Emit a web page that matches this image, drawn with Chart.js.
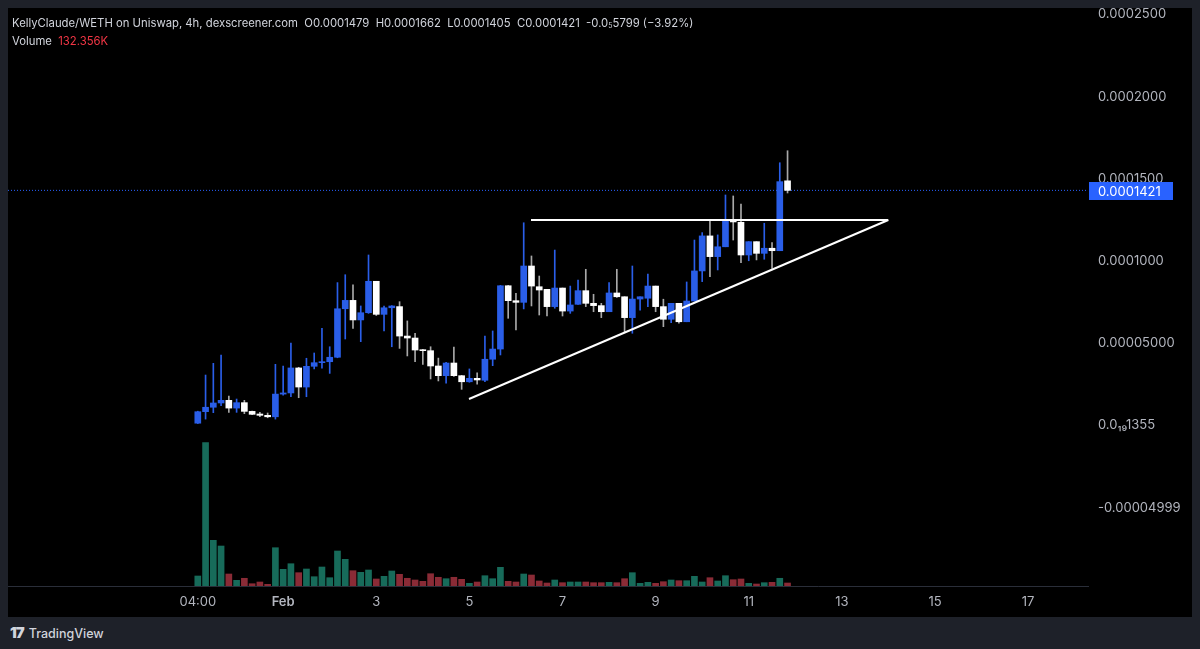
<!DOCTYPE html>
<html lang="en">
<head>
  <meta charset="UTF-8">
  <title>KellyClaude/WETH 4h</title>
  <script src="https://cdn.jsdelivr.net/npm/chart.js"></script>
  <style>
    html, body { margin: 0; padding: 0; }
    body {
      width: 1200px; height: 649px; overflow: hidden;
      background: #1e2129;
      font-family: Inter, "Noto Sans", sans-serif;
      position: relative;
    }
    #panel {
      position: absolute; left: 8px; top: 8px;
      width: 1184px; height: 609px; background: #000;
    }
    #legend {
      position: absolute; left: 12px; top: 14px;
      color: #d1d4dc; font-size: 11.3px; line-height: 18px;
      white-space: pre;
    }
    #legend sub { font-size: 7px; vertical-align: -1px; line-height: 0; }
    #legend .red { color: #f23645; }
    #brand {
      position: absolute; left: 10px; top: 623px;
      color: #d1d4dc; font-size: 12.5px; font-weight: 500;
    }
    #brand b { font-weight: 900; font-size: 15px; letter-spacing: -1px; margin-right: 5px; }
  </style>
</head>
<body>
  <div id="panel"><canvas id="chart" width="1184" height="609"></canvas></div>
  <div id="legend"></div>
  <div id="brand"><b>17</b>TradingView</div>

  <script>
    // 4h candles, first one Jan 30 04:00 (price in WETH)
    const open = [0.0000005, 0.0000075, 0.0000102, 0.0000128, 0.0000144, 0.0000097, 0.0000130, 0.0000077, 0.0000061, 0.0000053,
      0.0000044, 0.0000182, 0.0000189, 0.0000341, 0.0000225, 0.0000351, 0.0000373, 0.0000379, 0.0000406, 0.0000701,
      0.0000752, 0.0000633, 0.0000677, 0.0000868, 0.0000667, 0.0000707, 0.0000714, 0.0000535, 0.0000523, 0.0000452,
      0.0000446, 0.0000353, 0.0000294, 0.0000371, 0.0000294, 0.0000257, 0.0000278, 0.0000266, 0.0000394, 0.0000456,
      0.0000841, 0.0000750, 0.0000740, 0.0000961, 0.0000835, 0.0000819, 0.0000714, 0.0000827, 0.0000687, 0.0000728,
      0.0000811, 0.0000734, 0.0000720, 0.0000683, 0.0000797, 0.0000774, 0.0000647, 0.0000760, 0.0000765, 0.0000839,
      0.0000714, 0.0000637, 0.0000734, 0.0000622, 0.0000748, 0.0000931, 0.0001144, 0.0001018, 0.0001078, 0.0001241,
      0.0001227, 0.0001028, 0.0001109, 0.0001038, 0.0001069, 0.0001054, 0.0001479];
    const high = [0.0000078, 0.0000298, 0.0000369, 0.0000420, 0.0000170, 0.0000152, 0.0000144, 0.0000079, 0.0000071, 0.0000067,
      0.0000363, 0.0000353, 0.0000493, 0.0000345, 0.0000400, 0.0000432, 0.0000582, 0.0000470, 0.0000860, 0.0000908,
      0.0000847, 0.0000718, 0.0001028, 0.0000868, 0.0000718, 0.0000720, 0.0000744, 0.0000627, 0.0000552, 0.0000455,
      0.0000470, 0.0000401, 0.0000375, 0.0000468, 0.0000296, 0.0000335, 0.0000312, 0.0000535, 0.0000566, 0.0000843,
      0.0000843, 0.0000795, 0.0001224, 0.0001022, 0.0000900, 0.0000819, 0.0001058, 0.0000827, 0.0000839, 0.0000876,
      0.0000941, 0.0000789, 0.0000734, 0.0000860, 0.0000941, 0.0000774, 0.0000961, 0.0000774, 0.0000912, 0.0000839,
      0.0000759, 0.0000734, 0.0000734, 0.0000864, 0.0001119, 0.0001164, 0.0001241, 0.0001150, 0.0001393, 0.0001387,
      0.0001338, 0.0001109, 0.0001109, 0.0001221, 0.0001103, 0.0001589, 0.0001662];
    const low = [0.0000003, 0.0000030, 0.0000069, 0.0000111, 0.0000071, 0.0000071, 0.0000063, 0.0000057, 0.0000044, 0.0000038,
      0.0000030, 0.0000175, 0.0000166, 0.0000160, 0.0000166, 0.0000335, 0.0000339, 0.0000308, 0.0000403, 0.0000517,
      0.0000582, 0.0000501, 0.0000673, 0.0000660, 0.0000566, 0.0000470, 0.0000460, 0.0000414, 0.0000379, 0.0000363,
      0.0000274, 0.0000262, 0.0000248, 0.0000290, 0.0000211, 0.0000254, 0.0000243, 0.0000257, 0.0000355, 0.0000420,
      0.0000643, 0.0000572, 0.0000700, 0.0000718, 0.0000663, 0.0000657, 0.0000704, 0.0000657, 0.0000673, 0.0000728,
      0.0000714, 0.0000683, 0.0000647, 0.0000683, 0.0000770, 0.0000561, 0.0000552, 0.0000693, 0.0000714, 0.0000683,
      0.0000592, 0.0000616, 0.0000613, 0.0000622, 0.0000748, 0.0000866, 0.0000896, 0.0000937, 0.0001078, 0.0001119,
      0.0000981, 0.0000993, 0.0000998, 0.0001002, 0.0000947, 0.0001054, 0.0001405];
    const close = [0.0000075, 0.0000102, 0.0000128, 0.0000144, 0.0000097, 0.0000130, 0.0000077, 0.0000059, 0.0000053, 0.0000044,
      0.0000182, 0.0000189, 0.0000341, 0.0000225, 0.0000351, 0.0000373, 0.0000379, 0.0000406, 0.0000701, 0.0000752,
      0.0000633, 0.0000677, 0.0000868, 0.0000667, 0.0000707, 0.0000718, 0.0000535, 0.0000523, 0.0000450, 0.0000446,
      0.0000353, 0.0000294, 0.0000371, 0.0000294, 0.0000257, 0.0000278, 0.0000268, 0.0000394, 0.0000456, 0.0000841,
      0.0000750, 0.0000740, 0.0000961, 0.0000839, 0.0000815, 0.0000714, 0.0000827, 0.0000687, 0.0000724, 0.0000811,
      0.0000734, 0.0000720, 0.0000683, 0.0000797, 0.0000774, 0.0000647, 0.0000760, 0.0000774, 0.0000839, 0.0000714,
      0.0000637, 0.0000734, 0.0000622, 0.0000748, 0.0000931, 0.0001144, 0.0001018, 0.0001078, 0.0001241, 0.0001229,
      0.0001028, 0.0001109, 0.0001038, 0.0001069, 0.0001054, 0.0001474, 0.0001421];
    // volume in thousands
    const volume = [441, 6324, 2015, 1764, 529, 251, 340, 101, 176, 75,
      1689, 736, 983, 587, 750, 410, 838, 366, 1544, 1177,
      675, 604, 706, 309, 428, 662, 516, 340, 265, 207,
      542, 384, 322, 384, 295, 119, 176, 454, 322, 825,
      207, 176, 529, 485, 221, 132, 265, 146, 176, 176,
      176, 146, 146, 163, 146, 322, 587, 119, 163, 119,
      190, 265, 234, 234, 428, 176, 366, 221, 454, 278,
      309, 119, 88, 146, 163, 340, 132.356];

    // time axis, in candle steps from the first candle
    const xTickPos = [0, 11, 23, 35, 47, 59, 71, 83, 95, 107];
    const xTickLabels = ['04:00', 'Feb', '3', '5', '7', '9', '11', '13', '15', '17'];
    const yTickValues = [-0.00005, 0, 0.00005, 0.0001, 0.00015, 0.0002, 0.00025];
    const yTickLabels = ['-0.00004999', '0.0\u2081\u20891355', '0.00005000', '0.0001000', '0.0001500', '0.0002000', '0.0002500'];

    // drawn trend lines (candle step, price)
    const supportX = [34.95, 88.98];
    const supportY = [0.0000152, 0.0001241];
    const resistX = [42.94, 88.98];
    const resistY = [0.0001241, 0.0001241];

    const BLUE = '#2a5ee8';
    const xMin = -24.46, xMax = 114.72;
    const yMin = -0.0000985, yMax = 0.000253;

    const last = close.length - 1;
    const up = close.map((c, i) => c >= open[i]);

    document.getElementById('legend').innerHTML =
      'KellyClaude/WETH on Uniswap, 4h, dexscreener.com  O' + open[last].toFixed(7) +
      '  H' + high[last].toFixed(7) + '  L' + low[last].toFixed(7) + '  C' + close[last].toFixed(7) +
      '  -0.0<sub>5</sub>5799 (\u22123.92%)\nVolume  <span class="red">' + volume[last].toFixed(3) + 'K</span>';

    // price tag on the right axis
    const priceTag = {
      id: 'priceTag',
      afterDraw(chart) {
        const c = chart.ctx, y = chart.scales.y.getPixelForValue(close[last]);
        const x0 = chart.chartArea.right + 1;
        c.save();
        c.fillStyle = '#2962ff';
        c.fillRect(x0, Math.round(y) - 8, 84, 18);
        c.fillStyle = '#fff';
        c.font = '13px Inter';
        c.textBaseline = 'middle';
        c.fillText(close[last].toFixed(7), x0 + 9, Math.round(y) + 2);
        c.restore();
      }
    };

    const noPad = (s) => { s.paddingTop = 0; s.paddingBottom = 0; s.paddingLeft = 0; s.paddingRight = 0; };

    const ctx = document.getElementById('chart').getContext('2d');
    new Chart(ctx, {
      type: 'bar',
      data: {
        datasets: [
          {
            type: 'line', order: 1,
            data: supportX.map((x, i) => ({ x: x, y: supportY[i] })),
            borderColor: '#fff', borderWidth: 2, pointRadius: 0
          },
          {
            type: 'line', order: 1,
            data: resistX.map((x, i) => ({ x: x, y: resistY[i] })),
            borderColor: '#fff', borderWidth: 2, pointRadius: 0
          },
          {
            order: 2, grouped: false, barThickness: 6, minBarLength: 1,
            data: close.map((c, i) => ({ x: i, y: [open[i], c] })),
            backgroundColor: up.map(u => u ? BLUE : '#ffffff')
          },
          {
            order: 3, grouped: false, barThickness: 1,
            data: close.map((c, i) => ({ x: i, y: [low[i], high[i]] })),
            backgroundColor: up.map(u => u ? BLUE : '#a8a8a8')
          },
          {
            type: 'line', order: 4,
            data: [{ x: xMin, y: close[last] }, { x: xMax, y: close[last] }],
            borderColor: '#2962ff', borderWidth: 1, borderDash: [1, 2], pointRadius: 0
          },
          {
            order: 5, grouped: false, barThickness: 6, yAxisID: 'v',
            data: volume.map((v, i) => ({ x: i, y: v })),
            backgroundColor: up.map(u => u ? '#176b5a' : '#8a2b36')
          }
        ]
      },
      options: {
        responsive: false,
        animation: false,
        layout: { padding: 0 },
        plugins: { legend: { display: false }, tooltip: { enabled: false } },
        scales: {
          x: {
            type: 'linear', min: xMin, max: xMax, offset: false, bounds: 'data',
            grid: { display: false, drawTicks: false },
            border: { display: true, color: '#2a2e39' },
            afterBuildTicks: (axis) => { axis.ticks = xTickPos.map(v => ({ value: v })); },
            afterFit: (s) => { s.height = 31; noPad(s); },
            ticks: {
              autoSkip: false, maxRotation: 0, padding: 8,
              color: '#b2b5be',
              font: (c) => ({ family: 'Inter', size: 13, weight: c.tick && c.tick.label === 'Feb' ? '600' : '400' }),
              callback: (v) => xTickLabels[xTickPos.indexOf(v)]
            }
          },
          y: {
            position: 'right', min: yMin, max: yMax, bounds: 'data',
            grid: { display: false, drawTicks: false },
            border: { display: false },
            afterBuildTicks: (axis) => { axis.ticks = yTickValues.map(v => ({ value: v })); },
            afterFit: (s) => { s.width = 104; noPad(s); },
            ticks: {
              padding: 10, color: '#b2b5be', labelOffset: 1.5,
              font: { family: 'Inter', size: 13 },
              callback: (v) => yTickLabels[yTickValues.indexOf(v)]
            }
          },
          v: {
            display: false, min: 0, max: 25500
          }
        }
      },
      plugins: [priceTag]
    });
  </script>
</body>
</html>
